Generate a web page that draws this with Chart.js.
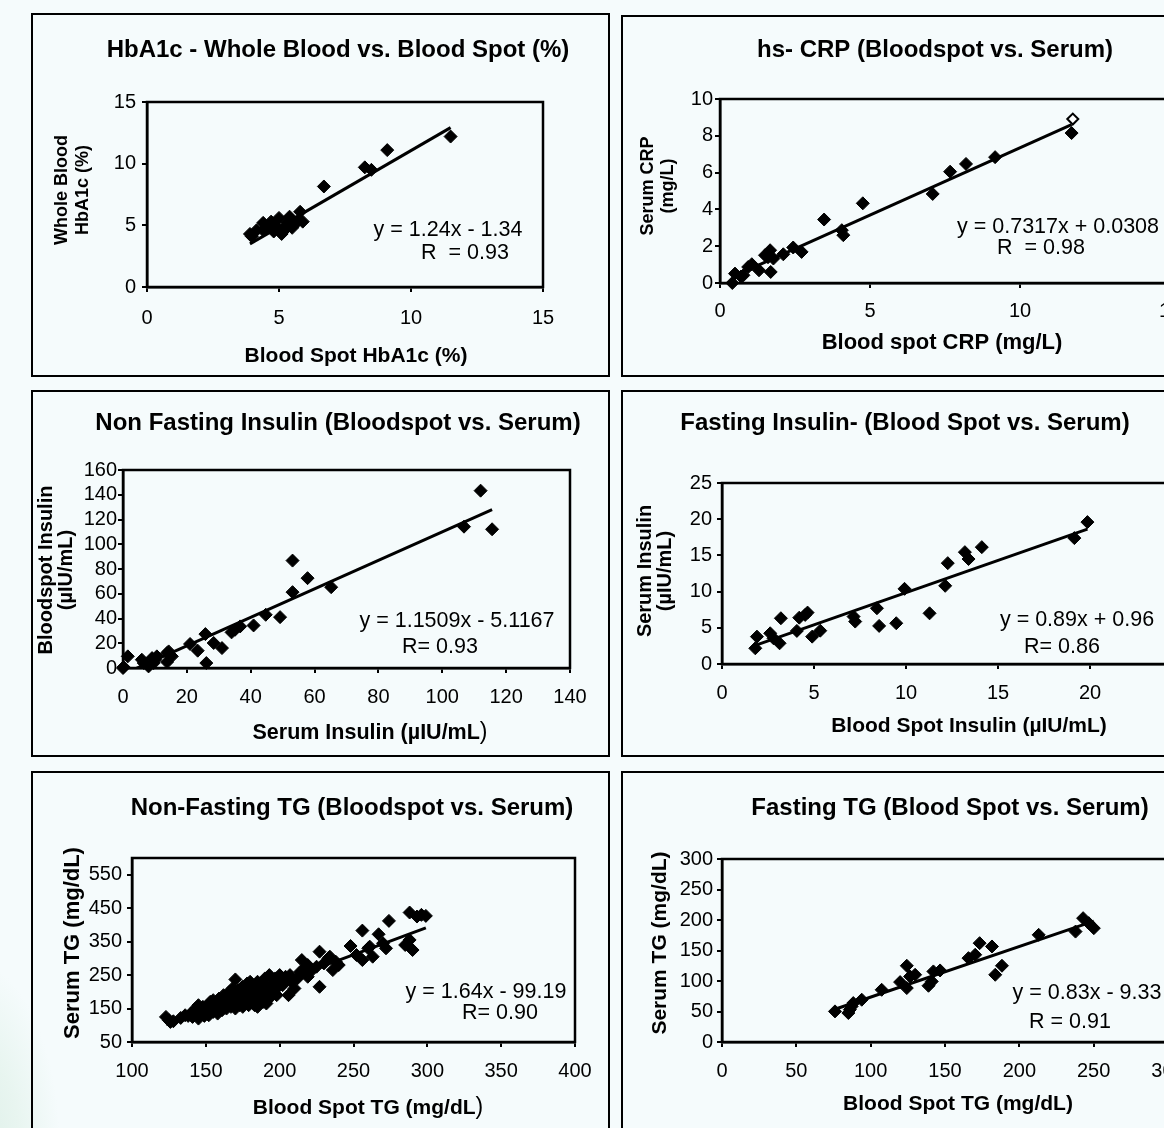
<!DOCTYPE html>
<html>
<head>
<meta charset="utf-8">
<script src="https://cdn.jsdelivr.net/npm/chart.js@4.4.1/dist/chart.umd.min.js"></script>
<style>
  html, body { margin: 0; padding: 0; }
  body {
    width: 1164px; height: 1128px; overflow: hidden; position: relative;
    background: radial-gradient(ellipse 90px 190px at -30px 1150px, #dcefe7 0%, #e8f5f0 55%, rgba(245,251,252,0) 100%), #f5fbfc;
  }
  .panel { position: absolute; }
  .frame { position: absolute; border: 2.5px solid #000; box-sizing: border-box; pointer-events: none; }
</style>
</head>
<body>
<script>
// HbA1c: blood spot (x) vs whole blood (y)
const hba1cBloodSpot = [3.9, 3.97, 4.15, 4.4, 4.4, 4.6, 4.7, 4.8, 4.9, 5.0, 5.1, 5.2, 5.3, 5.4, 5.5, 5.5, 5.7, 5.8, 5.9, 6.7, 8.25, 8.5, 9.1, 11.5];
const hba1cWholeBlood = [4.3, 4.1, 4.6, 5.2, 4.6, 4.9, 5.3, 4.5, 4.9, 5.6, 4.3, 4.6, 5.2, 5.7, 4.8, 5.4, 5.3, 6.1, 5.3, 8.15, 9.7, 9.5, 11.1, 12.2];
const hba1cTicks = [0, 5, 10, 15];
const hba1cFit = [1.24, -1.34];

// hs-CRP: blood spot (x) vs serum (y)
const crpBloodSpot = [0.41, 0.5, 0.7, 0.78, 0.94, 1.06, 1.3, 1.5, 1.6, 1.67, 1.69, 1.78, 2.11, 2.44, 2.72, 3.47, 4.06, 4.11, 4.76, 7.09, 7.67, 8.2, 9.17, 11.72];
const crpSerum = [0.0, 0.51, 0.35, 0.42, 0.87, 1.02, 0.69, 1.51, 1.4, 1.78, 0.6, 1.33, 1.56, 1.93, 1.69, 3.45, 2.87, 2.6, 4.33, 4.84, 6.05, 6.47, 6.84, 8.15];
const crpOpenBloodSpot = [11.76];
const crpOpenSerum = [8.91];
const crpXTicks = [0, 5, 10, 15];
const crpYTicks = [0, 2, 4, 6, 8, 10];
const crpFit = [0.7317, 0.0308];

// Non fasting insulin: serum (x) vs blood spot (y)
const nfInsSerum = [0, 0.2, 1.5, 5.9, 6.5, 8.0, 9.1, 9.6, 10.1, 10.6, 13.8, 14.3, 13.8, 15.3, 21.0, 23.4, 25.8, 26.1, 28.4, 31.0, 34.0, 35.1, 36.7, 40.9, 44.7, 49.2, 53.1, 53.1, 57.8, 65.2, 106.8, 112.0, 115.6];
const nfInsBloodSpot = [0, 0.8, 9.4, 6.7, 4.0, 1.3, 8.0, 4.0, 6.7, 9.4, 12.1, 13.4, 4.8, 9.4, 19.4, 14.0, 27.4, 4.0, 20.2, 16.1, 28.8, 30.9, 33.6, 34.4, 43.0, 41.1, 86.8, 61.3, 72.6, 65.3, 114.2, 143.3, 112.1];
const nfInsXTicks = [0, 20, 40, 60, 80, 100, 120, 140];
const nfInsYTicks = [0, 20, 40, 60, 80, 100, 120, 140, 160];
const nfInsFit = [1.1509, -5.1167];

// Fasting insulin: blood spot (x) vs serum (y)
const fInsBloodSpot = [1.81, 1.9, 2.62, 2.8, 3.13, 3.2, 4.07, 4.2, 4.52, 4.65, 4.9, 5.34, 7.15, 7.24, 8.42, 8.54, 9.47, 9.92, 11.28, 12.13, 12.27, 13.2, 13.4, 14.12, 19.15, 19.86];
const fInsSerum = [2.17, 3.78, 4.24, 3.55, 2.86, 6.32, 4.57, 6.4, 6.78, 7.1, 3.78, 4.6, 6.55, 5.86, 7.7, 5.26, 5.63, 10.38, 7.0, 10.8, 13.93, 15.45, 14.5, 16.14, 17.39, 19.6];
const fInsTicks = [0, 5, 10, 15, 20, 25];
const fInsFit = [0.89, 0.96];

// Non-fasting TG: blood spot (x) vs serum (y)
const nfTgBloodSpot = [
  123, 125, 126, 128, 133, 136, 138,
  140, 141, 142, 143, 144, 145, 145, 146, 147, 148, 149, 150,
  151, 152, 152, 153, 154, 155, 155, 156, 157, 158, 158, 159, 160, 160,
  161, 162, 162, 163, 164, 165, 165, 166, 167, 168, 168, 169, 170, 170, 170,
  171, 172, 173, 174, 175, 175, 176, 177, 178, 178, 179, 180, 180,
  181, 182, 183, 184, 185, 185, 186, 187, 188, 189, 190, 190,
  191, 192, 193, 194, 195, 196, 197, 198, 199, 200, 200,
  202, 204, 206, 207, 208, 210, 212, 215, 214,
  217, 219, 219, 222, 225, 227, 227, 230, 233, 234, 236, 238, 240,
  248, 252, 256, 256, 260, 261, 263, 267, 270, 272, 274, 285, 288, 288, 290, 293, 296, 299
];
const nfTgSerum = [
  125, 115, 110, 112, 122, 130, 128,
  135, 125, 140, 150, 130, 160, 120, 142, 135, 155, 128, 145,
  138, 160, 130, 170, 150, 140, 175, 158, 148, 165, 135, 180, 155, 170,
  145, 190, 160, 175, 150, 185, 165, 200, 155, 178, 210, 165, 237, 190, 150,
  175, 205, 160, 185, 155, 215, 195, 170, 225, 180, 160, 200, 230,
  175, 215, 160, 190, 155, 230, 205, 180, 220, 170, 195, 240,
  165, 210, 250, 185, 225, 205, 240, 190, 215, 250, 230,
  220, 245, 190, 250, 230, 210, 240, 295, 260,
  270, 280, 245, 265, 275, 320, 215, 285, 300, 305, 265, 290, 280,
  337, 310, 383, 295, 330, 335, 305, 372, 345, 330, 412, 340, 355, 437, 325, 425, 430, 427
];
const nfTgXTicks = [100, 150, 200, 250, 300, 350, 400];
const nfTgYTicks = [50, 150, 250, 350, 450, 550];
const nfTgFit = [1.64, -99.19];

// Fasting TG: blood spot (x) vs serum (y)
const fTgBloodSpot = [76, 85, 86, 87.2, 88.3, 94, 107.4, 119.8, 124.3, 124.3, 126.5, 129.9, 138.9, 141.1, 142.2, 146.7, 165.8, 170.3, 173.3, 181.6, 183.8, 188.3, 213, 237.8, 242.9, 246.7, 250.1];
const fTgSerum = [50.2, 47.5, 53, 58.4, 63.8, 69.3, 85.6, 98.2, 88.4, 125, 107.5, 110.2, 92.2, 99.3, 115.7, 117.3, 137.5, 143, 162, 156.6, 110.2, 125, 175.7, 181, 203, 194.8, 186.6];
const fTgTicks = [0, 50, 100, 150, 200, 250, 300];
const fTgFit = [0.83, -9.33];

const FONT = 'Arial, "Liberation Sans", Helvetica, sans-serif';
const TICK_SIZE = 20;
const TITLE_FONT = 'bold 24px ' + FONT;
const EQ_FONT = '21.5px ' + FONT;
const PAREN_FONT = '23px ' + FONT;
const bold = (px) => 'bold ' + px + 'px ' + FONT;

Chart.defaults.font.family = FONT;
Chart.defaults.font.size = TICK_SIZE;
Chart.defaults.color = '#000';

const panels = [
  {
    box: { x: 31, y: 13, w: 579, h: 364 },
    area: { l: 147, t: 102, r: 543, b: 287 },
    x: [0, 15], y: [0, 15], xTicks: hba1cTicks, yTicks: hba1cTicks,
    xs: hba1cBloodSpot, ys: hba1cWholeBlood, fit: hba1cFit, yPad: 6, xPad: 14,
    title: ['HbA1c - Whole Blood vs. Blood Spot (%)', 338, 50],
    yTitle: [['Whole Blood', 62], ['HbA1c (%)', 83]], yTitleY: 190, yFont: bold(18),
    xTitle: [[['Blood Spot HbA1c (%)', bold(21)]], 356, 356],
    eq: [['y = 1.24x - 1.34', 448, 230], ['R  = 0.93', 465, 253]]
  },
  {
    box: { x: 621, y: 15, w: 600, h: 362 },
    area: { l: 720, t: 99, r: 1170, b: 283 },
    x: [0, 15], y: [0, 10], xTicks: crpXTicks, yTicks: crpYTicks,
    xs: crpBloodSpot, ys: crpSerum, fit: crpFit, yPad: 2, xPad: 11,
    open: [crpOpenBloodSpot, crpOpenSerum],
    title: ['hs- CRP (Bloodspot vs. Serum)', 935, 50],
    yTitle: [['Serum CRP', 648], ['(mg/L)', 668]], yTitleY: 186, yFont: bold(18),
    xTitle: [[['Blood spot CRP (mg/L)', bold(22)]], 942, 343],
    eq: [['y = 0.7317x + 0.0308', 1058, 227], ['R  = 0.98', 1041, 248]]
  },
  {
    box: { x: 31, y: 390, w: 579, h: 367 },
    area: { l: 123, t: 470, r: 570, b: 668 },
    x: [0, 140], y: [0, 160], xTicks: nfInsXTicks, yTicks: nfInsYTicks,
    xs: nfInsSerum, ys: nfInsBloodSpot, fit: nfInsFit, yPad: 1, xPad: 12,
    title: ['Non Fasting Insulin (Bloodspot vs. Serum)', 338, 423],
    yTitle: [['Bloodspot Insulin', 46], ['(\u00b5IU/mL)', 66]], yTitleY: 570, yFont: bold(20),
    xTitle: [[['Serum Insulin (\u00b5IU/mL', bold(21.5)], [')', PAREN_FONT]], 370, 733],
    eq: [['y = 1.1509x - 5.1167', 457, 621], ['R= 0.93', 440, 647]]
  },
  {
    box: { x: 621, y: 390, w: 600, h: 367 },
    area: { l: 722, t: 483, r: 1182, b: 664 },
    x: [0, 25], y: [0, 25], xTicks: fInsTicks, yTicks: fInsTicks,
    xs: fInsBloodSpot, ys: fInsSerum, fit: fInsFit, yPad: 5, xPad: 12,
    title: ['Fasting Insulin- (Blood Spot vs. Serum)', 905, 423],
    yTitle: [['Serum Insulin', 645], ['(\u00b5IU/mL)', 665]], yTitleY: 571, yFont: bold(20),
    xTitle: [[['Blood Spot Insulin (\u00b5IU/mL)', bold(21)]], 969, 726],
    eq: [['y = 0.89x + 0.96', 1077, 620], ['R= 0.86', 1062, 647]]
  },
  {
    box: { x: 31, y: 771, w: 579, h: 370 },
    area: { l: 132, t: 858, r: 575, b: 1042 },
    x: [100, 400], y: [50, 600], xTicks: nfTgXTicks, yTicks: nfTgYTicks,
    xs: nfTgBloodSpot, ys: nfTgSerum, fit: nfTgFit, yPad: 5, xPad: 12, r: 6.5,
    title: ['Non-Fasting TG (Bloodspot vs. Serum)', 352, 808],
    yTitle: [['Serum TG (mg/dL)', 73]], yTitleY: 943, yFont: bold(22),
    xTitle: [[['Blood Spot TG (mg/dL', bold(21)], [')', PAREN_FONT]], 368, 1108],
    eq: [['y = 1.64x - 99.19', 486, 992], ['R= 0.90', 500, 1013]]
  },
  {
    box: { x: 621, y: 771, w: 600, h: 370 },
    area: { l: 722, t: 859, r: 1168, b: 1042 },
    x: [0, 300], y: [0, 300], xTicks: fTgTicks, yTicks: fTgTicks,
    xs: fTgBloodSpot, ys: fTgSerum, fit: fTgFit, yPad: 4, xPad: 12, r: 6.5,
    title: ['Fasting TG (Blood Spot vs. Serum)', 950, 808],
    yTitle: [['Serum TG (mg/dL)', 660]], yTitleY: 943, yFont: bold(21),
    xTitle: [[['Blood Spot TG (mg/dL)', bold(21)]], 958, 1104],
    eq: [['y = 0.83x - 9.33', 1087, 993], ['R = 0.91', 1070, 1022]]
  }
];

const YW = 50;
const XH = 46;

function axisOptions(p, which) {
  const horizontal = which === 'x';
  const ticks = horizontal ? p.xTicks : p.yTicks;
  const range = horizontal ? p.x : p.y;
  return {
    type: 'linear',
    min: range[0],
    max: range[1],
    afterBuildTicks: (axis) => { axis.ticks = ticks.map((v) => ({ value: v })); },
    afterFit: (axis) => { if (horizontal) axis.height = XH; else axis.width = YW; },
    grid: { drawOnChartArea: false, drawTicks: true, tickLength: 5, color: '#000', lineWidth: 2 },
    border: { display: true, color: '#000', width: 2.5 },
    ticks: { autoSkip: false, maxRotation: 0, padding: horizontal ? p.xPad : p.yPad, color: '#000', font: { size: TICK_SIZE } },
  };
}

function drawParts(ctx, parts, cx, cy) {
  let total = 0;
  parts.forEach(([t, f]) => { ctx.font = f; total += ctx.measureText(t).width; });
  let x = cx - total / 2;
  ctx.textAlign = 'left';
  parts.forEach(([t, f]) => {
    ctx.font = f;
    ctx.fillText(t, x, cy);
    x += ctx.measureText(t).width;
  });
}

function makePanel(p) {
  const ox = p.box.x, oy = p.box.y;
  const wrap = document.createElement('div');
  wrap.className = 'panel';
  Object.assign(wrap.style, { left: ox + 'px', top: oy + 'px', width: p.box.w + 'px', height: p.box.h + 'px' });
  const canvas = document.createElement('canvas');
  canvas.width = p.box.w;
  canvas.height = p.box.h;
  wrap.appendChild(canvas);
  document.body.appendChild(wrap);

  const frame = document.createElement('div');
  frame.className = 'frame';
  Object.assign(frame.style, { left: ox + 'px', top: oy + 'px', width: p.box.w + 'px', height: p.box.h + 'px' });
  document.body.appendChild(frame);

  const xLo = Math.min(...p.xs), xHi = Math.max(...p.xs);
  const datasets = [
    {
      data: [{ x: xLo, y: p.fit[0] * xLo + p.fit[1] }, { x: xHi, y: p.fit[0] * xHi + p.fit[1] }],
      showLine: true, pointRadius: 0, borderColor: '#000', borderWidth: 3, order: 0,
    },
    {
      data: p.xs.map((x, i) => ({ x, y: p.ys[i] })),
      pointStyle: 'rectRot', pointRadius: p.r || 6.5, backgroundColor: '#000',
      borderColor: '#000', borderWidth: 1, clip: false, order: 1,
    },
  ];
  if (p.open) {
    datasets.push({
      data: p.open[0].map((x, i) => ({ x, y: p.open[1][i] })),
      pointStyle: 'rectRot', pointRadius: 5.5, backgroundColor: '#fff',
      borderColor: '#000', borderWidth: 2, clip: false, order: 2,
    });
  }

  const panelText = {
    id: 'panelText',
    beforeDatasetsDraw(chart) {
      const { ctx, chartArea: a } = chart;
      ctx.save();
      ctx.strokeStyle = '#000';
      ctx.lineWidth = 2.5;
      ctx.strokeRect(a.left, a.top, a.right - a.left, a.bottom - a.top);
      ctx.restore();
    },
    afterDraw(chart) {
      const ctx = chart.ctx;
      ctx.save();
      ctx.fillStyle = '#000';
      ctx.textBaseline = 'middle';
      ctx.textAlign = 'center';
      ctx.font = TITLE_FONT;
      ctx.fillText(p.title[0], p.title[1] - ox, p.title[2] - oy);

      ctx.font = p.yFont;
      p.yTitle.forEach(([t, x]) => {
        ctx.save();
        ctx.translate(x - ox, p.yTitleY - oy);
        ctx.rotate(-Math.PI / 2);
        ctx.fillText(t, 0, 0);
        ctx.restore();
      });
      drawParts(ctx, p.xTitle[0], p.xTitle[1] - ox, p.xTitle[2] - oy);

      ctx.textAlign = 'center';
      ctx.font = EQ_FONT;
      p.eq.forEach(([t, x, y]) => ctx.fillText(t, x - ox, y - oy));
      ctx.restore();
    },
  };

  new Chart(canvas.getContext('2d'), {
    type: 'scatter',
    data: { datasets },
    options: {
      responsive: false,
      animation: false,
      devicePixelRatio: 1,
      events: [],
      layout: {
        padding: {
          left: p.area.l - ox - YW,
          top: p.area.t - oy,
          right: ox + p.box.w - p.area.r,
          bottom: oy + p.box.h - p.area.b - XH,
        },
      },
      plugins: { legend: { display: false }, tooltip: { enabled: false } },
      scales: { x: axisOptions(p, 'x'), y: axisOptions(p, 'y') },
    },
    plugins: [panelText],
  });
}

panels.forEach(makePanel);
</script>
</body>
</html>
